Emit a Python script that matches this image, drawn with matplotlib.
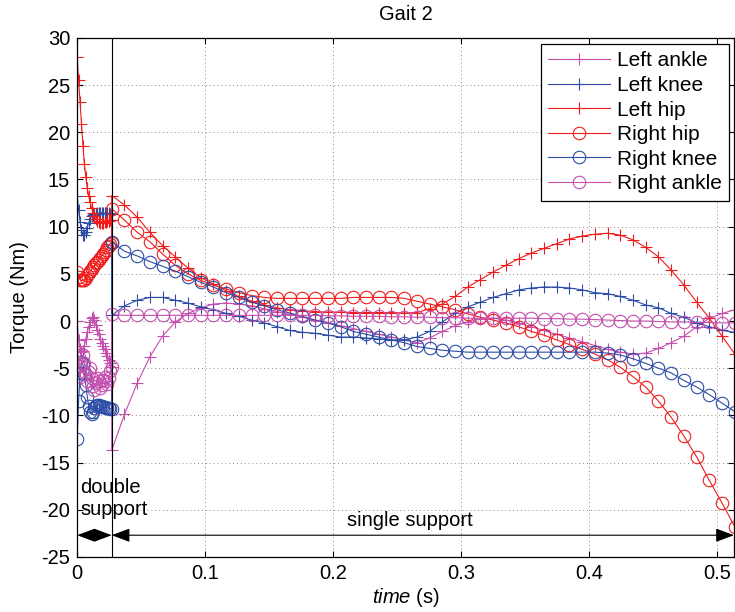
import numpy as np
import matplotlib
matplotlib.use('Agg')
import matplotlib.pyplot as plt

plt.rcParams['font.family'] = ['Liberation Sans', 'DejaVu Sans']
plt.rcParams['mathtext.fontset'] = 'custom'
plt.rcParams['mathtext.it'] = 'Liberation Sans:italic'
plt.rcParams['mathtext.rm'] = 'Liberation Sans'
plt.rcParams['axes.unicode_minus'] = False

# double support phase (t = 0 .. 0.027 s), single support phase (0.027 .. 0.514 s)
t_ds = np.linspace(0, 0.027, 25)
t_ss = np.linspace(0.027, 0.514, 50)

left_ankle_ds = [0.0, -2.0, -3.0, -3.3, -3.2, -2.6, -1.9, -1.2, -0.6, -0.1, 0.3, 0.4, 0.1,
                 -0.4, -0.9, -1.4, -1.9, -2.3, -2.7, -3.0, -3.4, -3.7, -4.1, -4.5, -4.9]
left_knee_ds = [13.3, 11.8, 10.5, 9.6, 9.1, 9.1, 9.4, 9.9, 10.4, 10.8, 11.1, 11.2, 11.3,
                11.3, 11.4, 11.4, 11.5, 11.5, 11.5, 11.4, 11.4, 11.4, 11.4, 11.3, 11.3]
left_hip_ds = [28.0, 25.5, 23.2, 20.9, 18.6, 16.6, 15.3, 14.1, 13.3, 12.6, 12.0, 11.5, 11.1,
               10.8, 10.6, 10.5, 10.4, 10.4, 10.4, 10.5, 10.5, 10.6, 10.6, 10.7, 10.7]
right_hip_ds = [5.2, 4.7, 4.4, 4.3, 4.3, 4.4, 4.6, 4.9, 5.1, 5.3, 5.5, 5.7, 5.9,
                6.1, 6.3, 6.5, 6.7, 6.9, 7.1, 7.3, 7.5, 7.8, 8.0, 8.2, 8.3]
right_knee_ds = [-12.5, -8.5, -5.5, -4.3, -4.6, -5.6, -6.8, -8.0, -9.0, -9.6, -9.9, -9.6, -9.2,
                 -9.0, -8.9, -8.9, -9.0, -9.0, -9.1, -9.1, -9.2, -9.2, -9.2, -9.3, -9.3]
right_ankle_ds = [-3.3, -3.8, -5.9, -4.8, -3.6, -4.4, -5.6, -6.4, -5.4, -5.0, -6.0, -6.9, -7.3,
                  -6.6, -6.0, -6.4, -7.1, -6.8, -6.2, -5.9, -6.4, -6.7, -6.0, -5.3, -4.9]

left_ankle_ss = [-13.7, -9.9, -6.6, -3.8, -1.6, -0.1, 0.8, 1.4, 1.8, 1.9,
                 1.8, 1.6, 1.3, 1.0, 0.7, 0.4, 0.1, -0.2, -0.5, -0.8,
                 -1.1, -1.4, -1.7, -2.0, -2.3, -1.8, -1.1, -0.5, -0.1, 0.2,
                 0.3, 0.1, -0.2, -0.6, -1.0, -1.4, -1.8, -2.2, -2.6, -3.0,
                 -3.3, -3.5, -3.4, -2.9, -2.3, -1.6, -0.6, 0.3, 0.8, 1.2]
left_knee_ss = [0.6, 1.6, 2.2, 2.5, 2.5, 2.2, 1.9, 1.5, 1.2, 0.8,
                0.5, 0.1, -0.2, -0.6, -1.0, -1.2, -1.3, -1.5, -1.7, -1.7,
                -1.8, -1.9, -2.0, -2.0, -1.7, -1.1, -0.1, 0.8, 1.5, 2.0,
                2.5, 2.9, 3.3, 3.5, 3.6, 3.6, 3.5, 3.3, 3.0, 2.9,
                2.6, 2.2, 1.7, 1.4, 0.8, 0.4, -0.2, -0.6, -1.0, -1.2]
left_hip_ss = [13.3, 12.3, 11.0, 9.4, 8.0, 6.8, 5.6, 4.6, 3.9, 3.2,
               2.6, 2.1, 1.7, 1.4, 1.2, 1.1, 1.0, 0.95, 0.95, 0.9,
               0.9, 0.9, 0.9, 0.85, 0.9, 1.3, 1.8, 2.6, 3.6, 4.4,
               5.2, 5.9, 6.6, 7.2, 7.7, 8.2, 8.7, 9.0, 9.2, 9.3,
               9.1, 8.6, 7.8, 6.8, 5.4, 3.8, 2.0, 0.3, -1.6, -3.5]
right_hip_ss = [11.9, 10.7, 9.4, 8.4, 7.1, 5.9, 5.0, 4.3, 3.8, 3.4,
                3.0, 2.7, 2.5, 2.4, 2.4, 2.4, 2.4, 2.4, 2.4, 2.5,
                2.5, 2.5, 2.5, 2.4, 2.1, 1.8, 1.5, 1.2, 0.75, 0.4,
                0.1, -0.2, -0.6, -1.1, -1.5, -2.0, -2.5, -3.0, -3.5, -4.1,
                -4.9, -5.9, -7.0, -8.5, -10.2, -12.2, -14.4, -16.9, -19.3, -21.8]
right_knee_ss = [8.4, 7.4, 6.9, 6.3, 5.8, 5.3, 4.7, 4.1, 3.6, 3.0,
                 2.5, 2.0, 1.6, 1.2, 0.85, 0.5, 0.1, -0.2, -0.6, -1.1,
                 -1.4, -1.7, -2.0, -2.3, -2.7, -2.9, -3.1, -3.2, -3.3, -3.3,
                 -3.3, -3.3, -3.3, -3.3, -3.3, -3.3, -3.3, -3.3, -3.3, -3.4,
                 -3.6, -4.0, -4.5, -5.0, -5.5, -6.3, -7.0, -7.8, -8.7, -9.6]
right_ankle_ss = [0.7, 0.6, 0.6, 0.6, 0.6, 0.6, 0.6, 0.6, 0.6, 0.6,
                  0.6, 0.6, 0.6, 0.6, 0.6, 0.6, 0.6, 0.55, 0.55, 0.5,
                  0.5, 0.5, 0.45, 0.45, 0.4, 0.4, 0.35, 0.35, 0.3, 0.3,
                  0.3, 0.3, 0.3, 0.3, 0.25, 0.25, 0.2, 0.2, 0.15, 0.1,
                  0.05, 0.0, 0.0, -0.05, -0.1, -0.1, -0.15, -0.15, -0.2, -0.2]

labels = ['Left ankle', 'Left knee', 'Left hip', 'Right hip', 'Right knee', 'Right ankle']
red = '#f01c1c'
blue = '#2d4ca6'
mag = '#c44fae'

t = np.concatenate([t_ds, t_ss])
series = [
    (left_ankle_ds + left_ankle_ss, mag, '+'),
    (left_knee_ds + left_knee_ss, blue, '+'),
    (left_hip_ds + left_hip_ss, red, '+'),
    (right_hip_ds + right_hip_ss, red, 'o'),
    (right_knee_ds + right_knee_ss, blue, 'o'),
    (right_ankle_ds + right_ankle_ss, mag, 'o'),
]

fig = plt.figure(figsize=(7.35, 6.12), dpi=100)
ax = fig.add_axes([0.105, 0.09, 0.8935, 0.848])

for (vals, c, m), lab in zip(series, labels):
    if m == 'o':
        ax.plot(t, vals, color=c, lw=0.8, marker='o', ms=9, mfc='none', mec=c, mew=0.8, label=lab)
    else:
        ax.plot(t, vals, color=c, lw=0.8, marker='+', ms=9, mew=0.8, label=lab)

ax.axvline(0.027, color='k', lw=0.8, zorder=5)

ax.set_xlim(0, 0.5133)
ax.set_ylim(-25, 30)
ax.set_xticks([0, 0.1, 0.2, 0.3, 0.4, 0.5])
ax.set_xticklabels(['0', '0.1', '0.2', '0.3', '0.4', '0.5'])
ax.set_yticks(np.arange(-25, 31, 5))
ax.tick_params(direction='in', top=True, right=True, labelsize=14.5, length=4, width=0.8, pad=5)
ax.grid(True, color='#888888', linestyle=(0, (1, 3)), lw=0.7)
for s in ax.spines.values():
    s.set_linewidth(0.9)

ax.set_title('Gait 2', fontsize=14.5, pad=13)
ax.set_xlabel(r'$\mathit{time}$ (s)', fontsize=14.5, labelpad=2)
ax.set_ylabel('Torque (Nm)', fontsize=14.5, labelpad=9)

# phase annotations
ax.text(0.0023, -16.6, 'double\nsupport', fontsize=14.5, va='top', ha='left', linespacing=1.2)
ax.text(0.26, -21.1, 'single support', fontsize=14.5, va='center', ha='center')
arrow = dict(arrowstyle='<|-|>,head_length=0.8,head_width=0.3', mutation_scale=14,
             color='k', lw=0.8, shrinkA=0, shrinkB=0)
ax.annotate('', xy=(0.0, -22.7), xytext=(0.027, -22.7), arrowprops=arrow)
ax.annotate('', xy=(0.027, -22.7), xytext=(0.5133, -22.7), arrowprops=arrow)

leg = ax.legend(loc='upper right', bbox_to_anchor=(0.9924, 0.9884), borderaxespad=0,
                fontsize=15, numpoints=1, handlelength=3.0, handletextpad=0.3,
                labelspacing=0.27, fancybox=False, framealpha=1, edgecolor='k',
                borderpad=0.35)
leg.get_frame().set_linewidth(0.9)

fig.savefig('out.png', dpi=100)
